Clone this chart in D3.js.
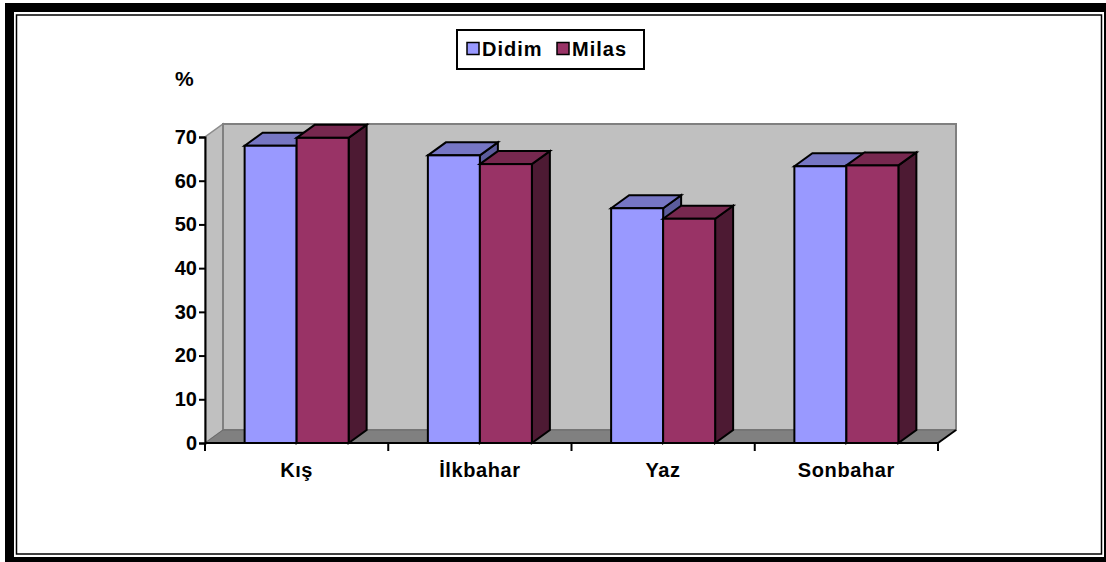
<!DOCTYPE html>
<html>
<head>
<meta charset="utf-8">
<script src="https://cdn.jsdelivr.net/npm/d3@7"></script>
<style>
  html, body { margin: 0; padding: 0; background: #fff; }
  svg { display: block; font-family: "Liberation Sans", Arial, sans-serif; font-weight: bold; }
</style>
</head>
<body>
<div id="chart"></div>
<script>
// Données (valeurs en %)
const categories = ["Kış", "İlkbahar", "Yaz", "Sonbahar"]
const seriesNames = ["Didim", "Milas"]
const didim = [68, 65.8, 53.7, 63.3]
const milas = [69.8, 63.8, 51.3, 63.5]
const yTicks = [0, 10, 20, 30, 40, 50, 60, 70]

const W = 1106, H = 562
const colors = {
  Didim: { front: "#9999ff", top: "#7676c4", side: "#5c5c9c" },
  Milas: { front: "#993366", top: "#77284f", side: "#4d1a33" },
}
// Décalage de profondeur (effet 3D façon Excel)
const DX = 18, DY = -13

const svg = d3.select("#chart").append("svg")
  .attr("width", W).attr("height", H)

// --- Cadre double (épais + fin) ---
svg.append("rect").attr("x", 5).attr("y", 3).attr("width", W - 5).attr("height", H - 3).attr("fill", "#000")
svg.append("rect").attr("x", 14).attr("y", 12).attr("width", 1090).attr("height", 545).attr("fill", "#fff")
svg.append("rect").attr("x", 16.5).attr("y", 15).attr("width", 1085).attr("height", 539)
  .attr("fill", "none").attr("stroke", "#000").attr("stroke-width", 1.5)

const x0 = d3.scaleBand().domain(categories).range([205, 938]).padding(0)
const x1 = d3.scaleBand().domain(seriesNames).range([0, x0.bandwidth()]).paddingInner(0).paddingOuter(0.762)
const y = d3.scaleLinear().domain([0, 70]).range([443, 137])

const xL = x0.range()[0], xR = x0.range()[1]
const yB = y(0), yT = y(70)
const pts = (a) => a.map(p => p.join(",")).join(" ")

// --- Murs et sol ---
// mur gauche
svg.append("polygon")
  .attr("points", pts([[xL, yB], [xL, yT], [xL + DX, yT + DY], [xL + DX, yB + DY]]))
  .attr("fill", "#c0c0c0").attr("stroke", "#8c8c8c").attr("stroke-width", 1.5)
// mur du fond
svg.append("rect")
  .attr("x", xL + DX).attr("y", yT + DY)
  .attr("width", xR - xL).attr("height", yB - yT)
  .attr("fill", "#c0c0c0").attr("stroke", "#808080").attr("stroke-width", 2)
// sol
svg.append("polygon")
  .attr("points", pts([[xL, yB], [xR, yB], [xR + DX, yB + DY], [xL + DX, yB + DY]]))
  .attr("fill", "#808080").attr("stroke", "#6a6a6a").attr("stroke-width", 1)
svg.append("line")
  .attr("x1", xR).attr("y1", yB).attr("x2", xR + DX).attr("y2", yB + DY)
  .attr("stroke", "#000").attr("stroke-width", 2)

// --- Barres 3D ---
const rows = categories.map((c, i) => ({ cat: c, values: [didim[i], milas[i]] }))
rows.forEach(row => {
  seriesNames.forEach((s, j) => {
    const v = row.values[j]
    const xa = x0(row.cat) + x1(s)
    const xb = xa + x1.bandwidth()
    const yt = y(v)
    const g = svg.append("g").attr("stroke", "#000").attr("stroke-width", 2).attr("stroke-linejoin", "miter")
    // face latérale
    g.append("polygon")
      .attr("points", pts([[xb, yt], [xb + DX, yt + DY], [xb + DX, yB + DY], [xb, yB]]))
      .attr("fill", colors[s].side)
    // dessus
    g.append("polygon")
      .attr("points", pts([[xa, yt], [xa + DX, yt + DY], [xb + DX, yt + DY], [xb, yt]]))
      .attr("fill", colors[s].top)
    // face avant
    g.append("rect")
      .attr("x", xa).attr("y", yt).attr("width", xb - xa).attr("height", yB - yt)
      .attr("fill", colors[s].front)
  })
})

// --- Axes ---
svg.append("g")
  .attr("transform", `translate(${xL},0)`)
  .call(d3.axisLeft(y).tickValues(yTicks).tickSize(6).tickPadding(2))
  .call(s => s.selectAll("path,line").attr("stroke", "#000").attr("stroke-width", 2))
  .call(s => s.selectAll("text").attr("fill", "#000").attr("font-size", 20)
    .attr("font-family", "Liberation Sans, Arial").attr("font-weight", "bold"))

svg.append("line")
  .attr("x1", xL).attr("x2", xR).attr("y1", yB).attr("y2", yB)
  .attr("stroke", "#000").attr("stroke-width", 2)
// graduations aux limites des catégories
const edges = categories.map(c => x0(c)).concat([xR])
svg.selectAll("line.xtick").data(edges).join("line")
  .attr("class", "xtick")
  .attr("x1", d => d).attr("x2", d => d).attr("y1", yB).attr("y2", yB + 8)
  .attr("stroke", "#000").attr("stroke-width", 2)

svg.selectAll("text.cat").data(categories).join("text")
  .attr("class", "cat")
  .attr("x", d => x0(d) + x0.bandwidth() / 2).attr("y", 477)
  .attr("text-anchor", "middle").attr("font-size", 20).attr("letter-spacing", 0.6).attr("fill", "#000")
  .text(d => d)

// unité de l'axe Y
svg.append("text").attr("x", 175).attr("y", 86).attr("font-size", 21).attr("fill", "#000").text("%")

// --- Légende ---
const leg = svg.append("g")
leg.append("rect").attr("x", 457).attr("y", 30).attr("width", 187).attr("height", 39)
  .attr("fill", "#fff").attr("stroke", "#000").attr("stroke-width", 2)
const legX = [467, 557]
seriesNames.forEach((s, i) => {
  leg.append("rect").attr("x", legX[i]).attr("y", 42.5).attr("width", 12).attr("height", 12)
    .attr("fill", colors[s].front).attr("stroke", "#000").attr("stroke-width", 1.5)
  leg.append("text").attr("x", legX[i] + 15).attr("y", 56).attr("font-size", 20)
    .attr("letter-spacing", 1).attr("fill", "#000").text(s)
})
</script>
</body>
</html>
